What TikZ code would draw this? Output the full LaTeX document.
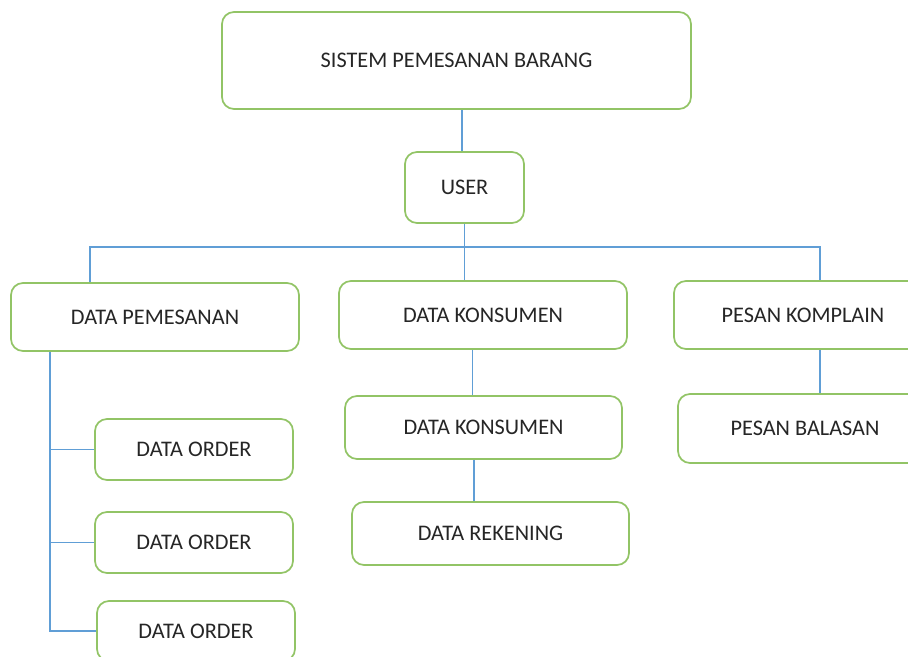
\documentclass[tikz,border=0pt]{standalone}
\usepackage{fontspec}
\setmainfont{Carlito}
\usetikzlibrary{positioning}
\definecolor{boxgreen}{RGB}{146,196,102}
\definecolor{lineblue}{RGB}{96,158,214}
\tikzset{
  block/.style={rectangle, rounded corners=9pt, draw=boxgreen, line width=1.3pt, fill=white, text centered, text=black!85, font=\fontsize{16.7}{19}\selectfont},
  size/.style 2 args={minimum width=#1*0.75pt, minimum height=#2*0.75pt},
  link/.style={draw=lineblue, line width=1.2pt}
}
\begin{document}
\begin{tikzpicture}[x=0.75pt, y=-0.75pt]
        \useasboundingbox (0,0) rectangle (908,657);
        \clip (0,0) rectangle (908,657);

        \node (sys) [block, size={469}{97}] at (456.5,60.5) {SISTEM PEMESANAN BARANG};
        \node (user) [block, size={119}{71}] at (464.5,187.5) {USER};
        \node (pem) [block, size={288}{68}] at (155,317) {DATA PEMESANAN};
        \node (kon1) [block, size={288}{68}] at (483,315) {DATA KONSUMEN};
        \node (komp) [block, size={258}{68}] at (803,315) {PESAN KOMPLAIN};
        \node (kon2) [block, size={277}{63}] at (483.5,427.5) {DATA KONSUMEN};
        \node (rek) [block, size={277}{63}] at (490.5,533.5) {DATA REKENING};
        \node (bal) [block, size={254}{69}] at (805,428.5) {PESAN BALASAN};
        \node (ord1) [block, size={198}{61}] at (194,449.5) {DATA ORDER};
        \node (ord2) [block, size={198}{61}] at (194,542.5) {DATA ORDER};
        \node (ord3) [block, size={198}{60}] at (196,631) {DATA ORDER};

        \coordinate (busL) at (90,247);
        \coordinate (busR) at (820,247);
        \coordinate (trunk) at (50,351);

        \draw [link] ([xshift=-2pt]user.north) -- ([xshift=-2pt]user.north |- sys.south);
        \draw [link] (user.south) -- (user.south |- kon1.north);
        \draw [link] (busL |- pem.north) -- (busL) -- (busR) -- (busR |- komp.north);
        \draw [link] ([xshift=-8pt]kon1.south) -- ([xshift=-8pt]kon1.south |- kon2.north);
        \draw [link] ([xshift=-7pt]kon2.south) -- ([xshift=-7pt]kon2.south |- rek.north);
        \draw [link] (busR |- komp.south) -- (busR |- bal.north);
        \draw [link] (trunk |- pem.south) -- (trunk |- ord3.west) -- (ord3.west);
        \draw [link] (trunk |- ord1.west) -- (ord1.west);
        \draw [link] (trunk |- ord2.west) -- (ord2.west);
    \end{tikzpicture}
\end{document}
